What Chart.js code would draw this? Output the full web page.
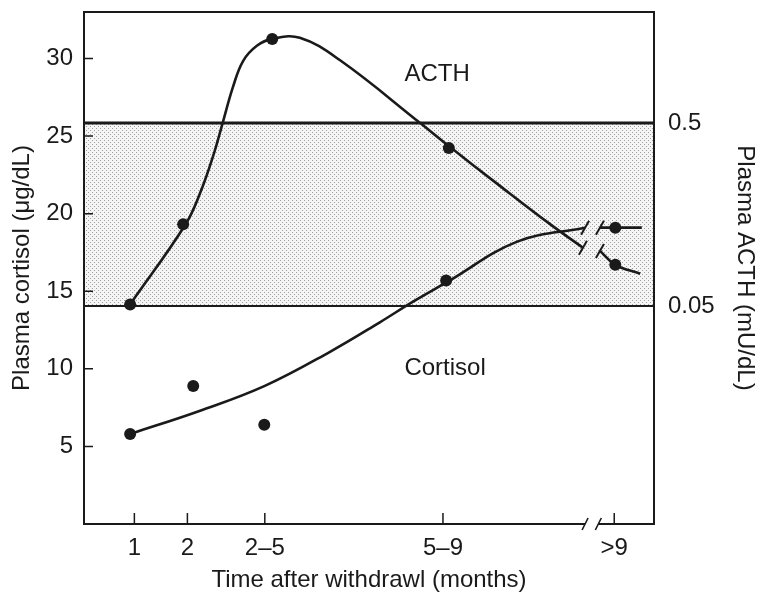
<!DOCTYPE html>
<html>
<head>
<meta charset="utf-8">
<script src="https://cdn.jsdelivr.net/npm/chart.js@4.4.0/dist/chart.umd.min.js"></script>
<style>
  html, body { margin: 0; padding: 0; background: #ffffff; }
  #wrap { width: 762px; height: 605px; }
</style>
</head>
<body>
<div id="wrap"><canvas id="c" width="762" height="605"></canvas></div>
<script>
// ---- data ----
const xTickPositions = [1, 2, 3.46, 6.82, 10.05];
const xTickLabels = ['1', '2', '2\u20135', '5\u20139', '>9'];
const cortisolTicks = [5, 10, 15, 20, 25, 30];
const acthTicks = [0.05, 0.5];

const acthDotX = [0.92, 1.92, 3.60, 6.93, 10.07];
const acthDotY = [0.051, 0.140, 1.44, 0.365, 0.084];
const cortisolDotX = [0.92, 2.11, 3.45, 6.88, 10.07];
const cortisolDotY = [5.8, 8.9, 6.4, 15.7, 19.1];

// hand-drawn trend curves; null = axis break
const acthCurveX = [0.92, 1.96, 2.24, 2.48, 2.67, 2.86, 3.05, 3.31, 3.60, 4.12, 4.88, 6.39, 6.93, 7.90, 8.84, 9.46, 9.6, 9.78, 10.07, 10.54];
const acthCurveY = [0.051, 0.139, 0.207, 0.326, 0.506, 0.787, 1.09, 1.32, 1.44, 1.46, 1.10, 0.50, 0.374, 0.226, 0.140, 0.104, null, 0.100, 0.084, 0.075];
const cortisolCurveX = [0.92, 2.24, 3.46, 4.69, 5.63, 6.24, 6.90, 8.22, 9.50, 9.6, 9.78, 10.07, 10.57];
const cortisolCurveY = [5.8, 7.3, 8.9, 11.1, 13.0, 14.3, 15.6, 18.2, 19.1, null, 19.1, 19.1, 19.1];

// normal ACTH range band (mU/dL)
const acthNormalLow = 0.05;
const acthNormalHigh = 0.5;

const xRange = [0.05, 10.8];
const cortisolRange = [0, 33];
const acthRange = [0.00322, 2.02];
const axisBreak = [9.5, 9.75];

const seriesLabels = { acth: 'ACTH', cortisol: 'Cortisol' };
const labelPos = { acth: [6.71, 29.0], cortisol: [6.86, 10.0] };

// ---- helpers ----
const zip = (xs, ys) => xs.map((x, i) => ({ x: x, y: ys[i] }));
const FONT = "'Liberation Sans', Arial, Helvetica, sans-serif";
const INK = '#1a1a1a';
const FS = 24;

function stipple() {
  const c = document.createElement('canvas');
  c.width = 4; c.height = 4;
  const g = c.getContext('2d');
  g.fillStyle = '#f5f5f5'; g.fillRect(0, 0, 4, 4);
  g.fillStyle = '#a0a0a0';
  g.fillRect(0, 0, 1, 1);
  g.fillRect(2, 2, 1, 1);
  return g.createPattern(c, 'repeat');
}
const ctx0 = document.getElementById('c').getContext('2d');
const pattern = stipple();

const framePlugin = {
  id: 'frame',
  afterDatasetsDraw(chart) {
    const { ctx, chartArea: a, scales } = chart;
    const sx = scales.x, sy = scales.y;
    ctx.save();
    ctx.strokeStyle = INK;
    ctx.lineCap = 'butt';
    ctx.lineWidth = 2;
    const b1 = sx.getPixelForValue(axisBreak[0]);
    const b2 = sx.getPixelForValue(axisBreak[1]);
    ctx.beginPath();
    ctx.moveTo(a.left - 1, a.top); ctx.lineTo(a.right + 1, a.top);
    ctx.moveTo(a.left, a.top); ctx.lineTo(a.left, a.bottom);
    ctx.moveTo(a.right, a.top); ctx.lineTo(a.right, a.bottom);
    ctx.moveTo(a.left - 1, a.bottom); ctx.lineTo(b1, a.bottom);
    ctx.moveTo(b2, a.bottom); ctx.lineTo(a.right + 1, a.bottom);
    ctx.stroke();
    // break marks on axis
    ctx.lineWidth = 1.6;
    ctx.beginPath();
    [b1, b2].forEach(bx => { ctx.moveTo(bx - 3, a.bottom + 6); ctx.lineTo(bx + 3, a.bottom - 6); });
    ctx.stroke();
    // inside ticks
    ctx.lineWidth = 1.5;
    ctx.beginPath();
    cortisolTicks.forEach(v => { const y = sy.getPixelForValue(v); ctx.moveTo(a.left, y); ctx.lineTo(a.left + 9, y); });
    xTickPositions.forEach(v => { const x = sx.getPixelForValue(v); ctx.moveTo(x, a.bottom); ctx.lineTo(x, a.bottom - 11); });
    ctx.stroke();
    // break marks on curves
    ctx.lineWidth = 2;
    [chart.getDatasetMeta(2), chart.getDatasetMeta(3)].forEach(meta => {
      const pts = meta.data;
      const ds = chart.data.datasets[meta.index].data;
      ds.forEach((d, i) => {
        if (d.y === null) {
          [pts[i - 1], pts[i + 1]].forEach(p => {
            ctx.beginPath();
            ctx.moveTo(p.x - 4, p.y + 7); ctx.lineTo(p.x + 4, p.y - 7);
            ctx.stroke();
          });
        }
      });
    });
    // series labels
    ctx.fillStyle = INK;
    ctx.font = FS + 'px ' + FONT;
    ctx.textAlign = 'center';
    ctx.textBaseline = 'middle';
    ctx.fillText(seriesLabels.acth, sx.getPixelForValue(labelPos.acth[0]), sy.getPixelForValue(labelPos.acth[1]));
    ctx.fillText(seriesLabels.cortisol, sx.getPixelForValue(labelPos.cortisol[0]), sy.getPixelForValue(labelPos.cortisol[1]));
    ctx.restore();
  }
};

const noPadV = s => { s.paddingTop = 0; s.paddingBottom = 0; };
const chart = new Chart(ctx0, {
  type: 'line',
  data: {
    datasets: [
      { label: 'ACTH points', type: 'scatter', yAxisID: 'y2', data: zip(acthDotX, acthDotY),
        showLine: false, pointRadius: 6, pointBackgroundColor: INK, pointBorderColor: INK, pointBorderWidth: 0, order: 1 },
      { label: 'Cortisol points', type: 'scatter', yAxisID: 'y', data: zip(cortisolDotX, cortisolDotY),
        showLine: false, pointRadius: 6, pointBackgroundColor: INK, pointBorderColor: INK, pointBorderWidth: 0, order: 1 },
      { label: 'ACTH curve', yAxisID: 'y2', data: zip(acthCurveX, acthCurveY), spanGaps: false,
        borderColor: INK, borderWidth: 2.6, pointRadius: 0, tension: 0.4, fill: false, order: 2 },
      { label: 'Cortisol curve', yAxisID: 'y', data: zip(cortisolCurveX, cortisolCurveY), spanGaps: false,
        borderColor: INK, borderWidth: 2.6, pointRadius: 0, tension: 0.4, fill: false, order: 2 },
      { label: 'Normal high', yAxisID: 'y2', data: zip(xRange, [acthNormalHigh, acthNormalHigh]),
        borderColor: INK, borderWidth: 3, pointRadius: 0, tension: 0, fill: '+1', backgroundColor: pattern, order: 5 },
      { label: 'Normal low', yAxisID: 'y2', data: zip(xRange, [acthNormalLow, acthNormalLow]),
        borderColor: INK, borderWidth: 2.2, pointRadius: 0, tension: 0, fill: false, order: 4 }
    ]
  },
  options: {
    responsive: false,
    devicePixelRatio: 1,
    animation: false,
    layout: { padding: { top: 12, left: 0, right: 0, bottom: 0 } },
    plugins: { legend: { display: false }, tooltip: { enabled: false } },
    scales: {
      x: {
        type: 'linear', position: 'bottom', min: xRange[0], max: xRange[1],
        afterBuildTicks: s => { s.ticks = xTickPositions.map(v => ({ value: v })); },
        afterFit: s => { s.height = 81; s.paddingLeft = 0; s.paddingRight = 0; },
        ticks: { autoSkip: false, maxRotation: 0, padding: 10, color: INK, font: { family: FONT, size: FS },
                 callback: (v, i) => xTickLabels[i] },
        grid: { display: false, drawTicks: false }, border: { display: false },
        title: { display: true, text: 'Time after withdrawl (months)', color: INK, font: { family: FONT, size: FS }, padding: { top: 0, bottom: 10 } }
      },
      y: {
        type: 'linear', position: 'left', min: cortisolRange[0], max: cortisolRange[1],
        afterBuildTicks: s => { s.ticks = cortisolTicks.map(v => ({ value: v })); },
        afterFit: s => { s.width = 84; noPadV(s); },
        ticks: { padding: 11, color: INK, font: { family: FONT, size: FS }, callback: v => String(v) },
        grid: { display: false, drawTicks: false }, border: { display: false },
        title: { display: true, text: 'Plasma cortisol (\u03bcg/dL)', color: INK, font: { family: FONT, size: FS }, padding: { top: 8, bottom: 0 } }
      },
      y2: {
        type: 'logarithmic', position: 'right', min: acthRange[0], max: acthRange[1],
        afterBuildTicks: s => { s.ticks = acthTicks.map(v => ({ value: v })); },
        afterFit: s => { s.width = 108; noPadV(s); },
        ticks: { padding: 14, color: INK, font: { family: FONT, size: FS }, callback: v => String(v) },
        grid: { display: false, drawTicks: false }, border: { display: false },
        title: { display: true, text: 'Plasma ACTH (mU/dL)', color: INK, font: { family: FONT, size: FS }, padding: { top: 3, bottom: 0 } }
      }
    }
  },
  plugins: [framePlugin]
});
</script>
</body>
</html>
